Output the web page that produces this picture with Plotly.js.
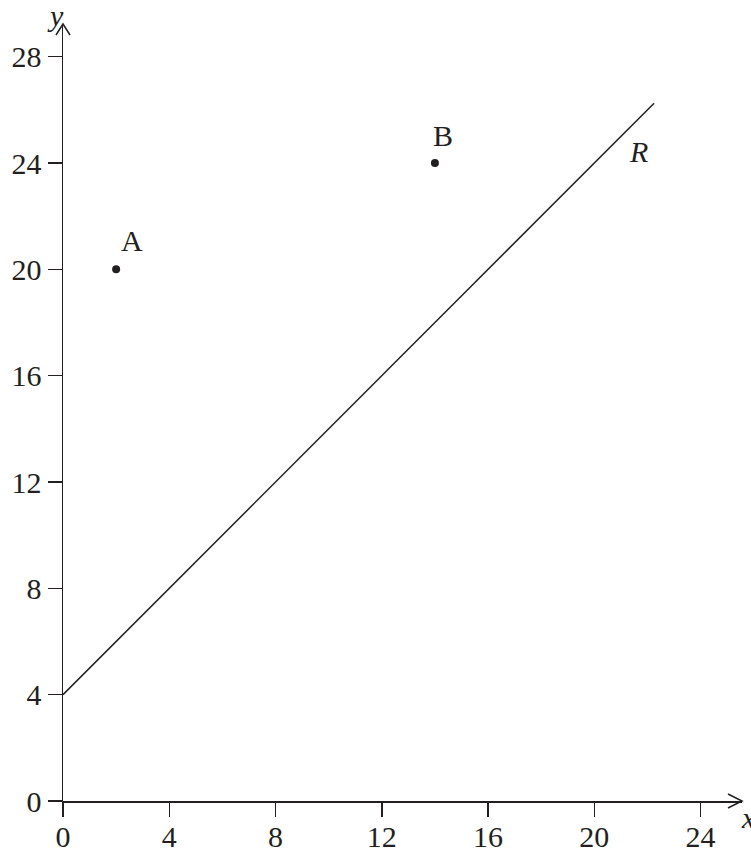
<!DOCTYPE html>
<html>
<head>
<meta charset="utf-8">
<script src="https://cdn.plot.ly/plotly-3.0.1.min.js"></script>
<style>html,body{margin:0;padding:0;background:#fff;}#chart{width:751px;height:852px;}</style>
</head>
<body>
<div id="chart"></div>
<script>
// Data
const pointNames = ['A', 'B'];
const pointX = [2, 14];
const pointY = [20, 24];
const lineName = 'R';
const lineX = [0, 22.25];
const lineY = [4, 26.25];
const xTickVals = [0, 4, 8, 12, 16, 20, 24];
const yTickVals = [0, 4, 8, 12, 16, 20, 24, 28];
const xRange = [0, 25.56];
const yRange = [0, 29.23];

// Styling
const ink = '#231f20';
const serif = '"Liberation Serif", "Times New Roman", Times, serif';
const labelShiftX = [16, 8];
const labelShiftY = [29, 28];

const traces = [
  {x: lineX, y: lineY, mode: 'lines', line: {color: ink, width: 1.5}, hoverinfo: 'skip'},
  {x: pointX, y: pointY, mode: 'markers', marker: {color: ink, size: 8}, hoverinfo: 'skip'}
];

const annotations = pointNames.map((n, i) => ({
  x: pointX[i], y: pointY[i], xref: 'x', yref: 'y', text: n, showarrow: false,
  xanchor: 'center', yanchor: 'middle', xshift: labelShiftX[i], yshift: labelShiftY[i],
  font: {family: serif, size: 30, color: ink}
}));
annotations.push({
  x: lineX[1], y: lineY[1], xref: 'x', yref: 'y', text: '<i>' + lineName + '</i>', showarrow: false,
  xanchor: 'center', yanchor: 'middle', xshift: -16, yshift: -48,
  font: {family: serif, size: 30, color: ink}
});
annotations.push({
  x: 1, y: 0, xref: 'paper', yref: 'paper', text: '<i>x</i>', showarrow: false,
  xanchor: 'left', yanchor: 'middle', xshift: -3, yshift: -16,
  font: {family: serif, size: 30, color: ink}
});
annotations.push({
  x: 0, y: 1, xref: 'paper', yref: 'paper', text: '<i>y</i>', showarrow: false,
  xanchor: 'right', yanchor: 'middle', xshift: 3, yshift: 9,
  font: {family: serif, size: 30, color: ink}
});

const shapes = [
  {type: 'path', xref: 'paper', yref: 'paper', xsizemode: 'pixel', ysizemode: 'pixel',
   xanchor: 1, yanchor: 0, path: 'M -14,7 L 0,0 L -14,-7', line: {color: ink, width: 1.5}},
  {type: 'path', xref: 'paper', yref: 'paper', xsizemode: 'pixel', ysizemode: 'pixel',
   xanchor: 0, yanchor: 1, path: 'M -7,-11 L 0,0 L 7,-11', line: {color: ink, width: 1.5}}
];

const axisCommon = {
  showline: true, linecolor: ink, linewidth: 1.5,
  ticks: 'outside', ticklen: 14, tickwidth: 1.5, tickcolor: ink,
  showgrid: false, zeroline: false, fixedrange: true,
  tickfont: {family: serif, size: 30, color: ink}
};

const layout = {
  width: 751, height: 852,
  margin: {l: 63, r: 9.3, t: 24, b: 51, pad: 0},
  paper_bgcolor: '#ffffff', plot_bgcolor: '#ffffff',
  showlegend: false,
  xaxis: Object.assign({}, axisCommon, {range: xRange, tickvals: xTickVals, ticktext: xTickVals.map(String), ticklabelstandoff: -6}),
  yaxis: Object.assign({}, axisCommon, {range: yRange, tickvals: yTickVals, ticktext: yTickVals.map(String), ticklabelstandoff: 0}),
  annotations: annotations,
  shapes: shapes
};

Plotly.newPlot('chart', traces, layout, {displayModeBar: false, staticPlot: true});
</script>
</body>
</html>
